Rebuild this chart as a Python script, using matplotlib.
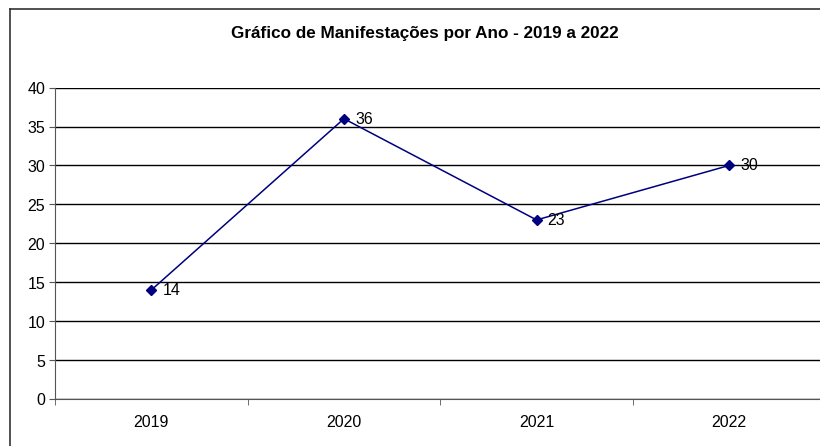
import matplotlib.pyplot as plt
from matplotlib.lines import Line2D

anos = ["2019", "2020", "2021", "2022"]
manifestacoes = [14, 36, 23, 30]
y_ticks = [0, 5, 10, 15, 20, 25, 30, 35, 40]

plt.rcParams["font.family"] = ["Liberation Sans", "DejaVu Sans"]

fig = plt.figure(figsize=(8.205, 4.465), dpi=100)
ax = fig.add_axes([55 / 820, 47 / 446, 770 / 820, 311 / 446])

# moldura da figura (só esquerda e topo aparecem)
bx, by = 9.5 / 820, 1 - 9.5 / 446
fig.lines.append(Line2D([bx, bx], [0, by], transform=fig.transFigure,
                        color="#333333", linewidth=1.2))
fig.lines.append(Line2D([bx, 1], [by, by], transform=fig.transFigure,
                        color="#333333", linewidth=1.2))

x = list(range(len(anos)))
ax.plot(x, manifestacoes, color="#000080", linewidth=1.1, marker="D",
        markersize=5, zorder=3)
for xi, v in zip(x, manifestacoes):
    ax.annotate(str(v), (xi, v), xytext=(8, 0), textcoords="offset points",
                va="center", ha="left", fontsize=11.5)

ax.set_xlim(-0.5, len(anos) - 0.5)
ax.set_ylim(0, 40)
ax.set_yticks(y_ticks)
ax.set_xticks(x)
ax.set_xticklabels(anos)
ax.set_xticks([i - 0.5 for i in range(len(anos) + 1)], minor=True)
ax.tick_params(axis="x", which="major", length=0, labelsize=11.5, pad=11)
ax.tick_params(axis="x", which="minor", length=4, color="#555555")
ax.tick_params(axis="y", length=4, labelsize=11.5, color="#555555", pad=3)
ax.grid(axis="y", color="black", linewidth=1)
ax.set_axisbelow(True)
for s in ["top", "right"]:
    ax.spines[s].set_visible(False)
ax.spines["left"].set_color("#555555")
ax.spines["bottom"].set_color("#555555")

fig.text(425 / 820, 1 - 33 / 446, "Gráfico de Manifestações por Ano - 2019 a 2022",
         ha="center", va="center", fontsize=12.3, fontweight="bold")

fig.savefig("out.png", dpi=100)
